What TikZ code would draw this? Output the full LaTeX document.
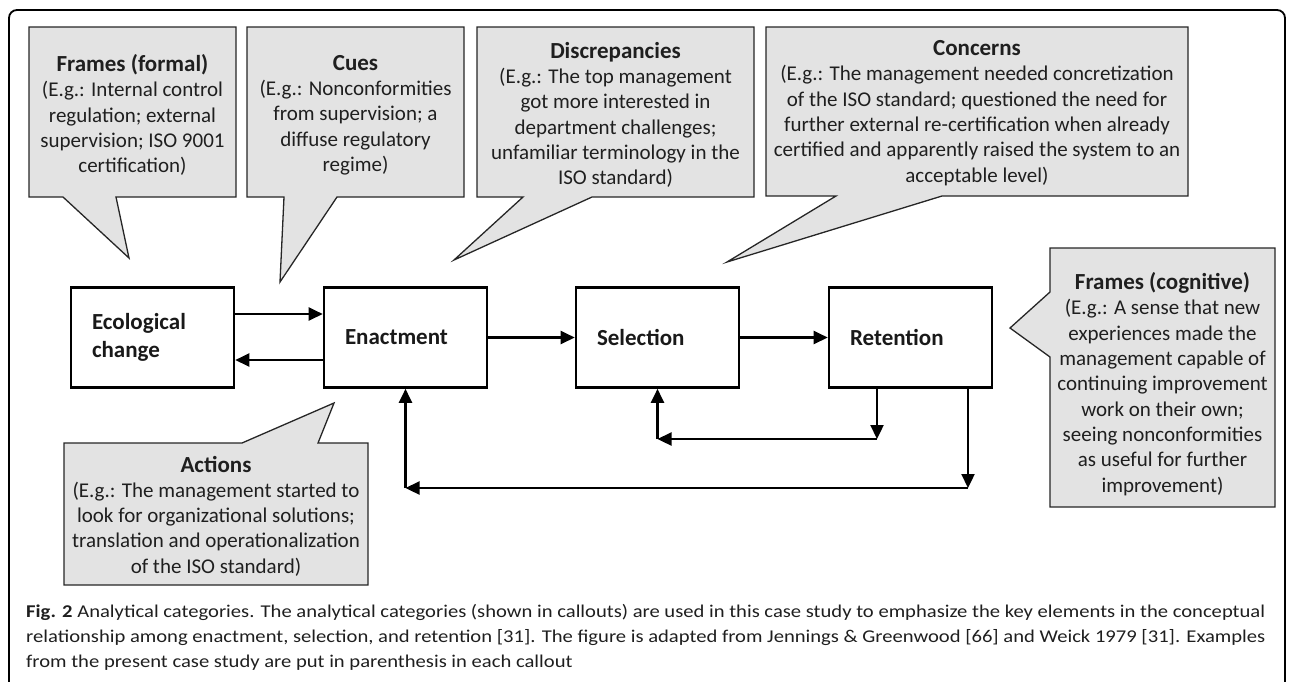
\documentclass[tikz,border=0pt]{standalone}
\usepackage{fontspec}
\setmainfont{Carlito}
\usetikzlibrary{arrows.meta}
\definecolor{callfill}{gray}{0.89}
\definecolor{txt}{gray}{0.12}
\newcommand\ttl[1]{{\fontsize{23}{25.3}\selectfont\bfseries #1}}
\newcommand\capfont{\fontsize{18}{25}\selectfont}
\newlength\capw
\tikzset{
 outerframe/.style={draw=black, line width=1.8pt, rounded corners=8pt},
 callout/.style={draw=black!85, fill=callfill, line width=1.3pt, line join=miter},
 calltext/.style={align=center, text=txt, font=\fontsize{21}{25.3}\selectfont, inner sep=0pt},
 box/.style={draw=black, line width=2.6pt, minimum height=100pt, text width=121pt, inner xsep=21pt, inner ysep=0pt, align=left, font=\fontsize{23}{28.5}\selectfont\bfseries, text=black!90},
 arr/.style={draw=black, line width=2.3pt, -{Triangle[length=14pt,width=13pt]}},
 captext/.style={anchor=base west, inner sep=0pt, text=txt},
}
\begin{document}
\settowidth\capw{\capfont\textbf{Fig. 2} Analytical categories. The analytical categories (shown in callouts) are used in this case study to emphasize the key elements in the conceptual}%
\pgfmathsetmacro\capsx{1239/\capw}%
\begin{tikzpicture}[x=1pt,y=-1pt]
\useasboundingbox (0,0) rectangle (1292,681);
\draw[outerframe] (9,10) rectangle (1285,695);

% callouts
\draw[callout] (29,27) -- (236,27) -- (236,197) -- (116,197) -- (129,258) -- (63,197) -- (29,197) -- cycle;
\node[calltext] (cff) at (132.5,115) {\ttl{Frames (formal)}\\(E.g.: Internal control\\regulation; external\\supervision; ISO 9001\\certification)};

\draw[callout] (247,27) -- (464,27) -- (464,197) -- (337,197) -- (280,282) -- (284,197) -- (247,197) -- cycle;
\node[calltext] (ccu) at (355.5,115) {\ttl{Cues}\\(E.g.: Nonconformities\\from supervision; a\\diffuse regulatory\\regime)};

\draw[callout] (477,27) -- (754,27) -- (754,197) -- (592,197) -- (454,260) -- (523,197) -- (477,197) -- cycle;
\node[calltext] (cdi) at (615.5,115) {\ttl{Discrepancies}\\(E.g.: The top management\\got more interested in\\department challenges;\\unfamiliar terminology in the\\ISO standard)};

\draw[callout] (766,27) -- (1188,27) -- (1188,196) -- (942,196) -- (727,262) -- (836,196) -- (766,196) -- cycle;
\node[calltext] (cco) at (977,113) {\ttl{Concerns}\\(E.g.: The management needed concretization\\of the ISO standard; questioned the need for\\further external re-certification when already\\certified and apparently raised the system to an\\acceptable level)};

\draw[callout] (1050,248) -- (1275,248) -- (1275,507) -- (1050,507) -- (1050,357) -- (1010,328) -- (1050,292) -- cycle;
\node[calltext] (cfc) at (1162.5,384) {\ttl{Frames (cognitive)}\\(E.g.: A sense that new\\experiences made the\\management capable of\\continuing improvement\\work on their own;\\seeing nonconformities\\as useful for further\\improvement)};

\draw[callout] (64,443) -- (242,443) -- (334,403) -- (318,443) -- (368,443) -- (368,585) -- (64,585) -- cycle;
\node[calltext] (cac) at (216,516) {\ttl{Actions}\\(E.g.: The management started to\\look for organizational solutions;\\translation and operationalization\\of the ISO standard)};

% process boxes
\node[box] (eco) at (152.5,337.5) {Ecological\\change};
\node[box] (enact) at (405.5,337.5) {Enactment};
\node[box] (sel) at (657.5,337.5) {Selection};
\node[box] (ret) at (910.5,337.5) {Retention};

% connectors
\draw[arr] (eco.east |- {0,314}) -- (enact.west |- {0,314});
\draw[arr] (enact.west |- {0,360}) -- (eco.east |- {0,360});
\draw[arr] (enact.east) -- (sel.west);
\draw[arr] (sel.east) -- (ret.west);

\coordinate (ia) at (877,439);
\coordinate (ib) at (sel.south |- ia);
\draw[arr] (ret.south -| ia) -- (ia);
\draw[arr] (ia) -- (ib);
\draw[arr] (ib) -- (sel.south);

\coordinate (oa) at (968,488);
\coordinate (ob) at (enact.south |- oa);
\draw[arr] (ret.south -| oa) -- (oa);
\draw[arr] (oa) -- (ob);
\draw[arr] (ob) -- (enact.south);

% caption
\node[captext] (cap1) at (26,617) {\scalebox{\capsx}[1]{\capfont\textbf{Fig. 2} Analytical categories. The analytical categories (shown in callouts) are used in this case study to emphasize the key elements in the conceptual}};
\node[captext] (cap2) at (26,642) {\scalebox{\capsx}[1]{\capfont relationship among enactment, selection, and retention [31]. The figure is adapted from Jennings \& Greenwood [66] and Weick 1979 [31]. Examples}};
\node[captext] (cap3) at (26,667) {\scalebox{\capsx}[1]{\capfont from the present case study are put in parenthesis in each callout}};
\end{tikzpicture}
\end{document}
